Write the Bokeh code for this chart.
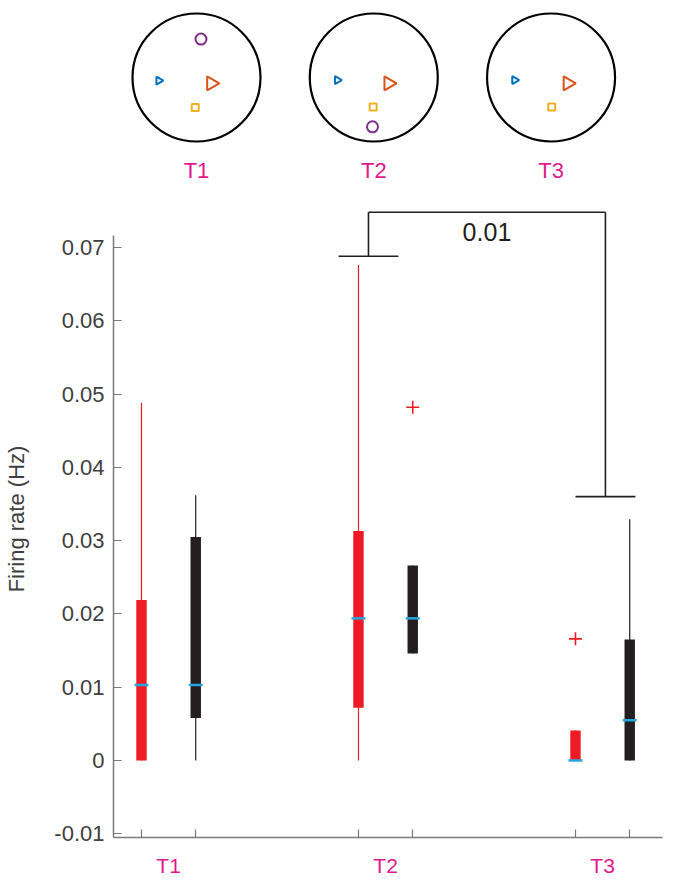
import math
from bokeh.plotting import figure
from bokeh.models import Range1d, FixedTicker, LinearAxis
from bokeh.layouts import column
from bokeh.embed import file_html
from bokeh.resources import INLINE
from bokeh.core.properties import value

FONT = "Liberation Sans"

# ---------------- arena (top) data ----------------
arena_names = ["T1", "T2", "T3"]
blue_x = [-0.59, -0.57, -0.57]
blue_y = [-0.05, -0.04, -0.04]
orange_x = [0.23, 0.23, 0.26]
orange_y = [-0.09, -0.09, -0.09]
yellow_x = [-0.02, -0.01, 0.01]
yellow_y = [-0.47, -0.46, -0.46]
purple_arena = [0, 1]
purple_x = [0.07, -0.02]
purple_y = [0.60, -0.77]

# ---------------- box plot data ----------------
group_names = ["T1", "T2", "T3"]
positions = [1.0, 1.25, 2.0, 2.25, 3.0, 3.25]
box_colors = ["#ed1c24", "#231f20", "#ed1c24", "#231f20", "#ed1c24", "#231f20"]
whisk_lo = [0.0, 0.0, 0.0, 0.0146, 0.0, 0.0]
q1 = [0.0, 0.0058, 0.0072, 0.0146, 0.0, 0.0]
median = [0.0103, 0.0103, 0.0194, 0.0194, 0.0, 0.0055]
q3 = [0.0219, 0.0305, 0.0313, 0.0266, 0.0041, 0.0165]
whisk_hi = [0.0488, 0.0362, 0.0676, 0.0266, 0.0041, 0.0329]
outlier_x = [2.25, 3.0]
outlier_y = [0.0482, 0.0166]

ytick_vals = [-0.01, 0.0, 0.01, 0.02, 0.03, 0.04, 0.05, 0.06, 0.07]
ytick_labels = ["-0.01", "0", "0.01", "0.02", "0.03", "0.04", "0.05", "0.06", "0.07"]

# significance bracket
bracket_x = [2.046, 3.138]
bracket_base = [0.0688, 0.036]
bracket_top = 0.0748
bracket_label = "0.01"

AXIS_GREY = "#7a7a7a"
TEXT_GREY = "#404040"
MAGENTA = "#e0198c"

W = 670
LEFT = 113
RIGHT = 8
FRAME_W = W - LEFT - RIGHT

# ---------------- top figure: arenas ----------------
PX = 64.0  # pixels per arena radius
gap = 2.77
centers = [i * gap for i in range(len(arena_names))]
TOP_H = 192
x0 = (LEFT - 196) / PX
y1 = 77 / PX
top = figure(width=W, height=TOP_H, output_backend="svg", toolbar_location=None,
             x_range=Range1d(x0, x0 + FRAME_W / PX), y_range=Range1d(y1 - TOP_H / PX, y1),
             x_axis_type=None, y_axis_type=None,
             min_border_left=LEFT, min_border_right=RIGHT, min_border_top=0, min_border_bottom=0)
top.outline_line_color = None
top.xgrid.visible = False
top.ygrid.visible = False

top.circle(x=centers, y=[0] * len(centers), radius=1.0, fill_color=None,
           line_color="black", line_width=2.2)
top.scatter(x=[c + d for c, d in zip(centers, blue_x)], y=blue_y, marker="triangle",
            size=8, angle=-math.pi / 2, fill_color=None, line_color="#0072bd", line_width=2)
top.scatter(x=[c + d for c, d in zip(centers, orange_x)], y=orange_y, marker="triangle",
            size=14, angle=-math.pi / 2, fill_color=None, line_color="#d95319", line_width=2)
top.scatter(x=[c + d for c, d in zip(centers, yellow_x)], y=yellow_y, marker="square",
            size=7, fill_color=None, line_color="#edb120", line_width=2)
top.scatter(x=[centers[a] + d for a, d in zip(purple_arena, purple_x)], y=purple_y,
            marker="circle", size=11, fill_color=None, line_color="#7e2f8e", line_width=2)
top.text(x=centers, y=[-1.45] * len(centers), text=arena_names, text_align="center",
         text_baseline="middle", text_color=MAGENTA, text_font=value(FONT),
         text_font_size="22px")

# ---------------- bottom figure: box plot ----------------
BOT_H = 688
p = figure(width=W, height=BOT_H, output_backend="svg", toolbar_location=None,
           x_range=Range1d(0.871, 3.401), y_range=Range1d(-0.0105, 0.0764),
           x_axis_type=None, y_axis_type=None,
           min_border_left=LEFT, min_border_right=RIGHT, min_border_top=8, min_border_bottom=43)
p.outline_line_color = None

yaxis = LinearAxis(bounds=(-0.0105, 0.0716), ticker=FixedTicker(ticks=ytick_vals),
                   major_label_overrides={v: l for v, l in zip(ytick_vals, ytick_labels)},
                   axis_label="Firing rate (Hz)")
yaxis.major_tick_in = 8
yaxis.major_tick_out = 0
yaxis.minor_tick_line_color = None
yaxis.axis_line_color = AXIS_GREY
yaxis.axis_line_width = 1.5
yaxis.major_tick_line_color = AXIS_GREY
yaxis.major_tick_line_width = 1.2
yaxis.major_label_text_font = FONT
yaxis.major_label_text_font_size = "22px"
yaxis.major_label_text_color = TEXT_GREY
yaxis.major_label_standoff = 9
yaxis.axis_label_text_font = FONT
yaxis.axis_label_text_font_size = "22px"
yaxis.axis_label_text_font_style = "normal"
yaxis.axis_label_text_color = TEXT_GREY
yaxis.axis_label_standoff = 22
p.add_layout(yaxis, "left")

label_pos = [(positions[2 * i] + positions[2 * i + 1]) / 2 for i in range(len(group_names))]
xaxis = LinearAxis(ticker=FixedTicker(ticks=label_pos, minor_ticks=positions),
                   major_label_overrides={v: l for v, l in zip(label_pos, group_names)})
xaxis.major_tick_line_color = None
xaxis.minor_tick_in = 8
xaxis.minor_tick_out = 0
xaxis.minor_tick_line_color = AXIS_GREY
xaxis.minor_tick_line_width = 1.2
xaxis.axis_line_color = AXIS_GREY
xaxis.axis_line_width = 1.5
xaxis.major_label_text_font = FONT
xaxis.major_label_text_font_size = "21px"
xaxis.major_label_text_color = MAGENTA
xaxis.major_label_standoff = 10
p.add_layout(xaxis, "below")

# whiskers
p.segment(x0=positions, y0=whisk_lo, x1=positions, y1=whisk_hi,
          line_color=box_colors, line_width=1.2)
# boxes
p.vbar(x=positions, bottom=q1, top=q3, width=0.048, fill_color=box_colors, line_color=None)
# medians
p.rect(x=positions, y=median, width=14, height=2.5, width_units="screen",
       height_units="screen", fill_color="#27a7df", line_color=None)
# outliers
p.scatter(x=outlier_x, y=outlier_y, marker="cross", size=13, line_color="#ed1c24",
          line_width=1.6)

# significance bracket
hw = 0.138
bx0, bx1 = bracket_x
b0, b1 = bracket_base
p.segment(x0=[bx0 - hw, bx0, bx0, bx1, bx1 - hw],
          y0=[b0, b0, bracket_top, bracket_top, b1],
          x1=[bx0 + hw, bx0, bx1, bx1, bx1 + hw],
          y1=[b0, bracket_top, bracket_top, b1, b1],
          line_color="#231f20", line_width=1.6)
p.text(x=[(bx0 + bx1) / 2], y=[0.0721], text=[bracket_label], text_align="center",
       text_baseline="middle", text_color="#231f20", text_font=value(FONT),
       text_font_size="25px")

layout = column(top, p)
open("out.html", "w").write(file_html(layout, INLINE))
